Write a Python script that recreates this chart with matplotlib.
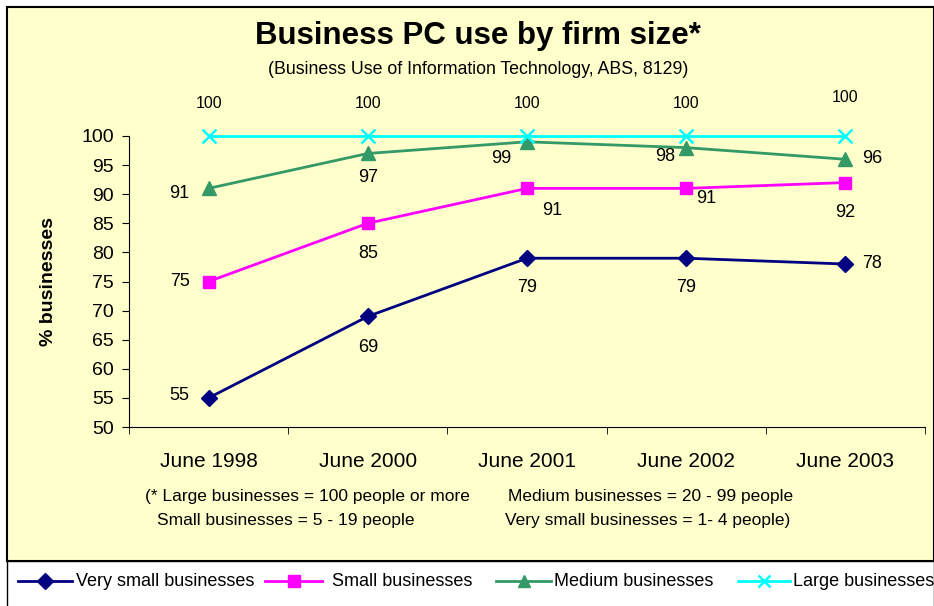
import matplotlib
matplotlib.use("Agg")
import matplotlib.pyplot as plt
from matplotlib.patches import Rectangle
from matplotlib.lines import Line2D

plt.rcParams['font.family'] = ['Liberation Sans', 'DejaVu Sans']

periods = ["June 1998", "June 2000", "June 2001", "June 2002", "June 2003"]
very_small = [55, 69, 79, 79, 78]
small = [75, 85, 91, 91, 92]
medium = [91, 97, 99, 98, 96]
large = [100, 100, 100, 100, 100]

W, H = 934, 606
fig = plt.figure(figsize=(W / 100, H / 100), dpi=100)
fig.patch.set_facecolor("white")

def px(x, y):
    return x / W, 1 - y / H

# yellow chart area and white legend strip
fig.patches.append(Rectangle(px(7, 561), (W - 7) / W, (561 - 7) / H, transform=fig.transFigure,
                             facecolor="#FFFFCC", edgecolor="black", linewidth=1.5, zorder=-2))
fig.patches.append(Rectangle(px(7, 610), (W - 7) / W, (610 - 561) / H, transform=fig.transFigure,
                             facecolor="white", edgecolor="black", linewidth=1.0, zorder=-2))

l, b = px(129, 427)
r, t = px(925, 136)
ax = fig.add_axes([l, b, r - l, t - b])
ax.set_facecolor("none")
ax.set_xlim(-0.5, 4.5)
ax.set_ylim(50, 100)
ax.set_yticks(range(50, 101, 5))
ax.set_xticks(range(len(periods)))
ax.set_xticklabels(periods)
ax.set_xticks([i - 0.5 for i in range(len(periods) + 1)], minor=True)
ax.tick_params(axis="x", which="major", length=0, pad=18, labelsize=15)
ax.tick_params(axis="x", which="minor", length=5, direction="out")
ax.tick_params(axis="y", length=5, direction="out", labelsize=14, pad=6)
for s in ("top", "right"):
    ax.spines[s].set_visible(False)
ax.set_ylabel("% businesses", fontsize=14, fontweight="bold", labelpad=17)

x = range(len(periods))
series = [
    (very_small, "#000080", "D", 8, "Very small businesses"),
    (small, "#FF00FF", "s", 9, "Small businesses"),
    (medium, "#339966", "^", 10, "Medium businesses"),
    (large, "#00FFFF", "x", 10, "Large businesses"),
]
handles = []
for vals, col, mk, ms, name in series:
    ln, = ax.plot(x, vals, color=col, marker=mk, markersize=ms, linewidth=2,
                  markeredgewidth=1.8 if mk == "x" else 1, clip_on=False, label=name)
    handles.append(ln)

# label offsets in pixels: (dx, dy, ha)
offsets = {
    "vs": [(-19, 2, "right"), (0, -31, "center"), (0, -29, "center"), (0, -29, "center"), (17, 1, "left")],
    "s": [(-19, 0, "right"), (0, -30, "center"), (25, -22, "center"), (20, -10, "center"), (0, -30, "center")],
    "m": [(-19, -5, "right"), (0, -24, "center"), (-26, -17, "center"), (-21, -9, "center"), (17, 1, "left")],
    "l": [(0, 33, "center"), (0, 33, "center"), (0, 33, "center"), (0, 33, "center"), (0, 38, "center")],
}
for vals, key in zip([very_small, small, medium, large], ["vs", "s", "m", "l"]):
    for i, v in enumerate(vals):
        dx, dy, ha = offsets[key][i]
        ax.annotate(str(v), (i, v), xytext=(dx, dy), textcoords="offset pixels",
                    ha=ha, va="center", fontsize=13 if key != "l" else 11.5,
                    annotation_clip=False)

fig.text(478 / W, 1 - 36 / H, "Business PC use by firm size*", ha="center", va="center",
         fontsize=22.5, fontweight="bold")
fig.text(478 / W, 1 - 69 / H, "(Business Use of Information Technology, ABS, 8129)",
         ha="center", va="center", fontsize=12.8)

fig.text(145 / W, 1 - 496 / H, "(* Large businesses = 100 people or more", va="center", fontsize=12.5)
fig.text(508 / W, 1 - 496 / H, "Medium businesses = 20 - 99 people", va="center", fontsize=12.5)
fig.text(157 / W, 1 - 521 / H, "Small businesses = 5 - 19 people", va="center", fontsize=12.5)
fig.text(505 / W, 1 - 521 / H, "Very small businesses = 1- 4 people)", va="center", fontsize=12.5)

# legend strip drawn item by item: (line start, line end, text start)
leg_pos = [(18, 72, 76), (265, 322, 332), (496, 551, 554), (738, 790, 793)]
leg_y = 1 - 581 / H
for (x0, x1, tx), h in zip(leg_pos, handles):
    fig.add_artist(Line2D([x0 / W, x1 / W], [leg_y, leg_y], transform=fig.transFigure,
                          color=h.get_color(), linewidth=2))
    fig.add_artist(Line2D([(x0 + x1) / 2 / W], [leg_y], transform=fig.transFigure,
                          color=h.get_color(), marker=h.get_marker(), markersize=8,
                          markeredgewidth=h.get_markeredgewidth()))
    fig.text(tx / W, leg_y, h.get_label(), va="center", fontsize=13)

fig.savefig("out.png", dpi=100, facecolor=fig.get_facecolor())
